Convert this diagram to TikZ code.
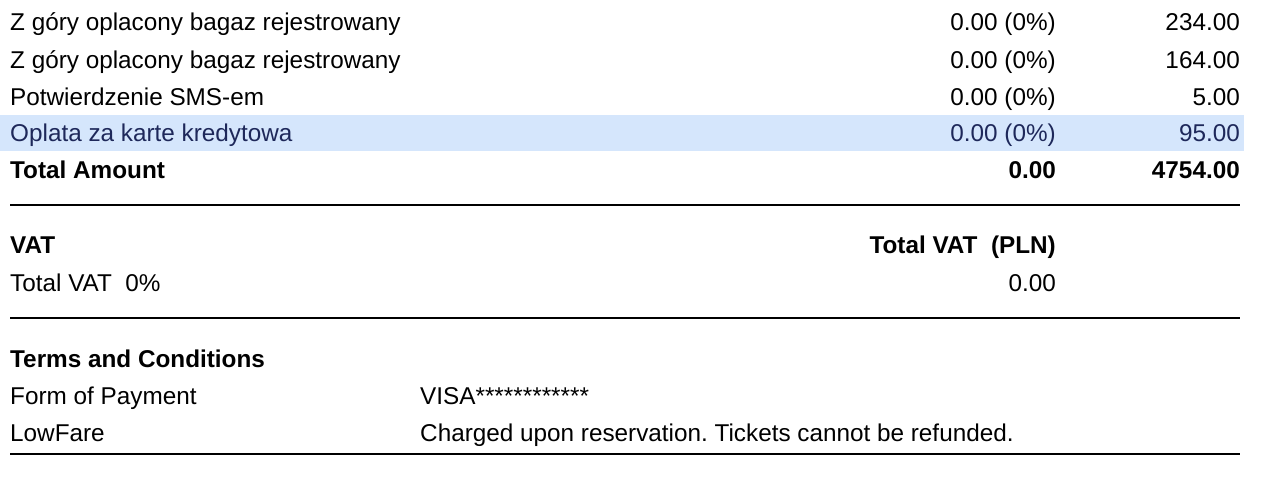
\documentclass[tikz,border=0pt]{standalone}
\usepackage{fontspec}
\setmainfont{Liberation Sans}
\definecolor{hlbg}{RGB}{213,230,252}
\definecolor{hltx}{RGB}{30,40,90}
\begin{document}
\frenchspacing
\begin{tikzpicture}[x=1pt,y=-1pt,
  t/.style={inner sep=0pt,font=\fontsize{24.3}{28}\selectfont},
  l/.style={t,anchor=base west},
  r/.style={t,anchor=base east},
  b/.style={font=\fontsize{24.3}{28}\selectfont\bfseries},
  hl/.style={text=hltx},
  rule/.style={line width=2.4pt}]
\useasboundingbox (0,0) rectangle (1266,490);
\fill[hlbg] (0,115) rectangle (1244,151);
\node[l] (a1) at (10,30) {Z góry oplacony bagaz rejestrowany};
\node[r] (a2) at (1056,30) {0.00 (0\%)};
\node[r] (a3) at (1240,30) {234.00};
\node[l] (b1) at (10,68) {Z góry oplacony bagaz rejestrowany};
\node[r] (b2) at (1056,68) {0.00 (0\%)};
\node[r] (b3) at (1240,68) {164.00};
\node[l] (c1) at (10,105) {Potwierdzenie SMS-em};
\node[r] (c2) at (1056,105) {0.00 (0\%)};
\node[r] (c3) at (1240,105) {5.00};
\node[l,hl] (d1) at (10,141) {Oplata za karte kredytowa};
\node[r,hl] (d2) at (1056,141) {0.00 (0\%)};
\node[r,hl] (d3) at (1240,141) {95.00};
\node[l,b] (e1) at (10,178) {Total Amount};
\node[r,b] (e2) at (1056,178) {0.00};
\node[r,b] (e3) at (1240,178) {4754.00};
\coordinate (L1a) at (10,205); \coordinate (L1b) at (1240,205);
\draw[rule] (L1a) -- (L1b);
\node[l,b] (f1) at (10,253) {VAT};
\node[r,b] (f2) at (1056,253) {Total VAT\ \ (PLN)};
\node[l] (g1) at (10,291) {Total VAT\ \ 0\%};
\node[r] (g2) at (1056,291) {0.00};
\coordinate (L2a) at (10,318); \coordinate (L2b) at (1240,318);
\draw[rule] (L2a) -- (L2b);
\node[l,b] (h1) at (10,367) {Terms and Conditions};
\node[l] (i1) at (10,404) {Form of Payment};
\node[l] (i2) at (420,404) {VISA************};
\node[l] (j1) at (10,441) {LowFare};
\node[l] (j2) at (420,441) {Charged upon reservation. Tickets cannot be refunded.};
\coordinate (L3a) at (10,454); \coordinate (L3b) at (1240,454);
\draw[rule] (L3a) -- (L3b);
\end{tikzpicture}
\end{document}
